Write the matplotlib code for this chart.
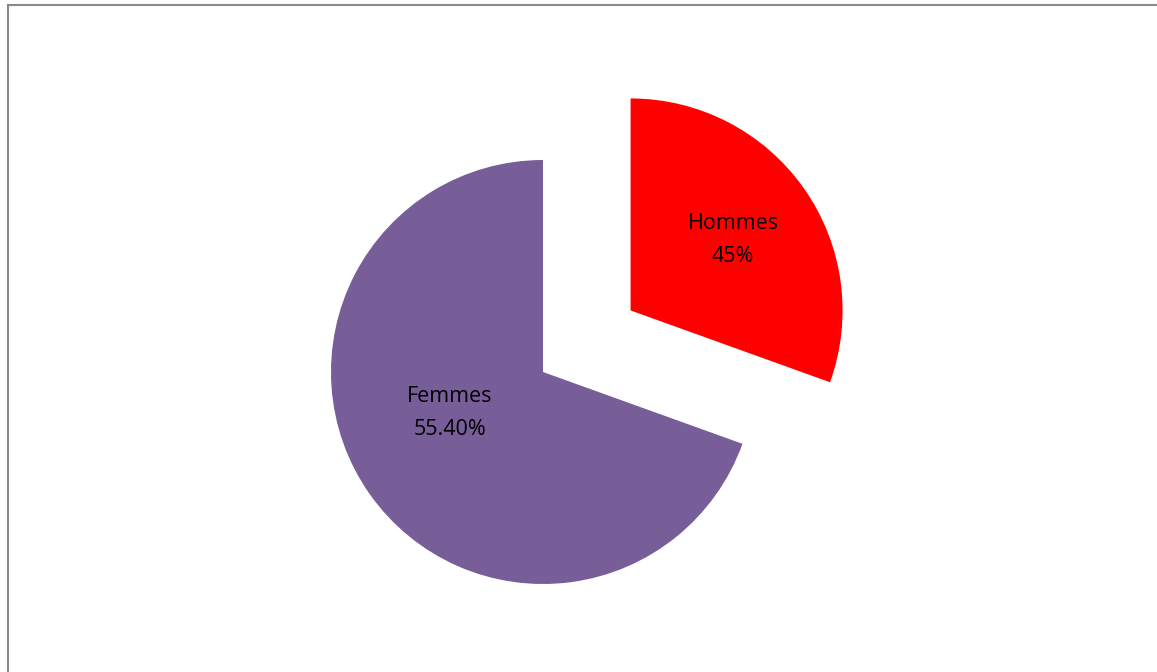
import matplotlib.pyplot as plt
from matplotlib.lines import Line2D

categories = ["Hommes", "Femmes"]
shares = [30.5, 69.5]
label_text = ["Hommes\n45%", "Femmes\n55.40%"]
colors = ["#FF0000", "#785E98"]

W, H = 1157, 672
R = 212
explode = [0.505 * R, 0]  # pie() offsets wedges in data units

fig = plt.figure(figsize=(W / 100, H / 100), dpi=100)
ax = fig.add_axes([0, 0, 1, 1])

ax.pie(shares, colors=colors, explode=explode, startangle=90, counterclock=False,
       center=(543, H - 372), radius=R, frame=True, wedgeprops=dict(linewidth=0))
ax.axis("off"); ax.set_xlim(0, W); ax.set_ylim(0, H); ax.set_aspect("equal")

label_pos = [(733, H - 240), (450, H - 413)]
for (x, y), t in zip(label_pos, label_text):
    ax.text(x, y, t, ha="center", va="center", fontsize=15.5, family="Open Sans",
            color="black", linespacing=1.7)

# chart-area border (only top and left visible)
fig.add_artist(Line2D([8 / W, 8 / W], [0, 1 - 5 / H], transform=fig.transFigure, color="#898989", lw=1.5))
fig.add_artist(Line2D([8 / W, 1], [1 - 5 / H, 1 - 5 / H], transform=fig.transFigure, color="#898989", lw=1.5))

fig.savefig("out.png", dpi=100)
